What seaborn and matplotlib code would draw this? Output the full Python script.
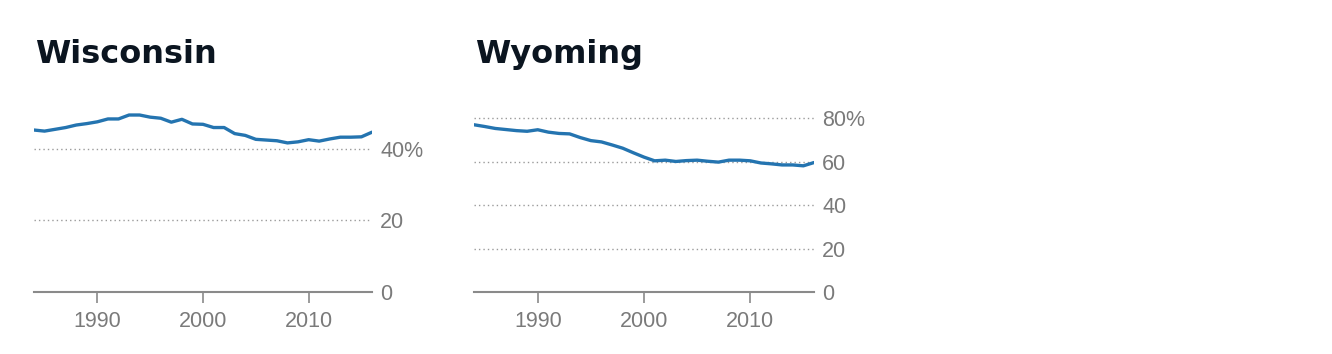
import numpy as np
import pandas as pd
import matplotlib
matplotlib.use("Agg")
import matplotlib.pyplot as plt
import seaborn as sns

years = list(range(1984, 2017))
wisconsin = [45.3, 45.0, 45.5, 46.0, 46.7, 47.1, 47.6, 48.4, 48.4, 49.5, 49.5, 48.9, 48.6,
             47.5, 48.3, 47.0, 46.9, 46.0, 46.0, 44.3, 43.8, 42.7, 42.5, 42.3, 41.7, 42.0,
             42.6, 42.2, 42.8, 43.3, 43.3, 43.4, 44.7]
wyoming = [77.0, 76.2, 75.3, 74.8, 74.3, 74.0, 74.7, 73.6, 73.0, 72.8, 71.1, 69.7, 69.1,
           67.7, 66.2, 64.1, 62.1, 60.4, 60.7, 60.1, 60.5, 60.7, 60.2, 59.8, 60.7, 60.7,
           60.4, 59.4, 59.0, 58.5, 58.5, 58.1, 59.6]

panels = [
    ("Wisconsin", wisconsin, [0, 20, 40], ["0", "20", "40%"], 53.7),
    ("Wyoming", wyoming, [0, 20, 40, 60, 80], ["0", "20", "40", "60", "80%"], 88.4),
]

sns.set_theme(style="white")
plt.rcParams["font.family"] = ["Liberation Sans", "DejaVu Sans"]

W, H = 1332, 354
fig = plt.figure(figsize=(W / 100, H / 100), dpi=100)
lefts = [34, 474]
widths = [338, 340]
bottom_px, height_px = 292, 192

for (name, vals, yt, ylab, ytop), lx, wx in zip(panels, lefts, widths):
    ax = fig.add_axes([lx / W, (H - bottom_px) / H, wx / W, height_px / H])
    df = pd.DataFrame({"year": years, "value": vals})
    for t in yt[1:]:
        ax.axhline(t, color="#9a9a9a", lw=1.0, ls=(0, (1, 2.2)), zorder=1)
    sns.lineplot(data=df, x="year", y="value", ax=ax, color="#2474b0", lw=2.4, zorder=3)
    ax.set_xlim(1984, 2016)
    ax.set_ylim(0, ytop)
    ax.set_xticks([1990, 2000, 2010])
    ax.set_yticks(yt)
    ax.set_yticklabels(ylab)
    ax.yaxis.tick_right()
    ax.tick_params(axis="y", length=0, pad=6, labelsize=15.5, labelcolor="#7a7a7a")
    ax.tick_params(axis="x", length=8, width=1.2, color="#8a8a8a", pad=6,
                   labelsize=15.5, labelcolor="#7a7a7a", direction="out", bottom=True)
    for s in ["top", "left", "right"]:
        ax.spines[s].set_visible(False)
    ax.spines["bottom"].set_color("#8a8a8a")
    ax.spines["bottom"].set_linewidth(1.5)
    ax.set_xlabel("")
    ax.set_ylabel("")
    ax.grid(False)
    fig.text((lx + 1) / W, (H - 63) / H, name, fontsize=23, fontweight="bold",
             family="DejaVu Sans", color="#0b1520", ha="left", va="baseline")

fig.savefig("out.png", dpi=100)
